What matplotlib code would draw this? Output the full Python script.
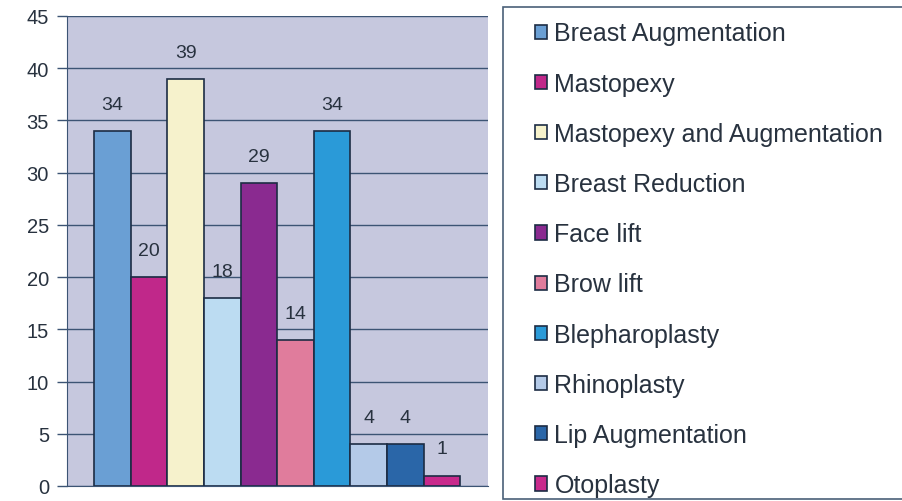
import numpy as np
import matplotlib.pyplot as plt
from matplotlib.patches import Rectangle

procedures = ['Breast Augmentation', 'Mastopexy', 'Mastopexy and Augmentation',
              'Breast Reduction', 'Face lift', 'Brow lift', 'Blepharoplasty',
              'Rhinoplasty', 'Lip Augmentation', 'Otoplasty']
counts = [34, 20, 39, 18, 29, 14, 34, 4, 4, 1]
bar_colors = ['#6a9fd4', '#c0288a', '#f6f2cc', '#bcdcf2', '#8a2a90',
              '#e07c9c', '#2a9ad8', '#b4cae8', '#2a66a8', '#c82a8c']
y_ticks = list(range(0, 50, 5))

plt.rcParams['font.family'] = ['Liberation Sans', 'DejaVu Sans']
text_color = '#28323f'
edge = '#1c2c44'

fig = plt.figure(figsize=(9.02, 5.02), dpi=100)
fig.patch.set_facecolor('white')

W, H = 902, 502
ax = fig.add_axes([67 / W, (H - 487) / H, 421 / W, 470 / H])
ax.set_facecolor('#c6c8de')

x = np.arange(len(counts))
bars = ax.bar(x, counts, width=1.0, color=bar_colors, edgecolor=edge,
              linewidth=1.2, label=procedures)

for xi, v in zip(x, counts):
    ax.annotate(str(v), (xi, v), xytext=(0, 13), textcoords='offset points',
                ha='center', va='bottom', fontsize=14, color=text_color)

ax.set_xlim(-1.24, 10.26)
ax.set_ylim(0, 45)
ax.set_yticks(y_ticks)
ax.set_xticks([])
ax.yaxis.grid(True, color='#3c5474', linewidth=1.0)
ax.set_axisbelow(True)
ax.tick_params(axis='y', length=7, width=1.0, color='#3c5474',
               labelsize=14.5, labelcolor=text_color, pad=6)
for side in ['top', 'right']:
    ax.spines[side].set_visible(False)
ax.spines['left'].set_color('#3c5474')
ax.spines['bottom'].set_color('#3c5474')

# legend box
fig.patches.append(Rectangle((503 / W, (H - 500) / H), (W - 503) / W + 0.01,
                             492 / H, transform=fig.transFigure,
                             facecolor='white', edgecolor='#4a6078',
                             linewidth=1.2, zorder=0))
leg = fig.legend(handles=list(bars), labels=procedures, loc='upper left',
                 bbox_to_anchor=(522 / W, (H - 10) / H), frameon=False,
                 fontsize=18, labelspacing=1.048, handlelength=0.5,
                 handleheight=0.5, handletextpad=0.3, borderpad=0)
for t in leg.get_texts():
    t.set_color(text_color)

fig.savefig('out.png', dpi=100)
